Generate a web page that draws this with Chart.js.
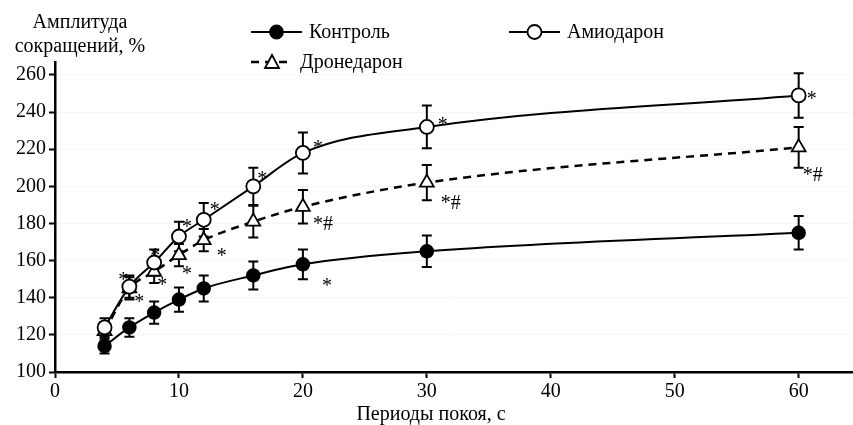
<!DOCTYPE html>
<html>
<head>
<meta charset="utf-8">
<script src="https://cdn.jsdelivr.net/npm/chart.js@4"></script>
<style>
  html, body { margin: 0; padding: 0; background: #fff; overflow: hidden; }
  #wrap { width: 853px; height: 425px; overflow: hidden; }
</style>
</head>
<body>
<div id="wrap"><canvas id="chart" width="863" height="425"></canvas></div>
<script>
// Rest periods, s
const restPeriods = [4, 6, 8, 10, 12, 16, 20, 30, 60];

// Contraction amplitude, % (mean and error)
const control = [114, 124, 132, 139, 145, 152, 158, 165, 175];
const controlErr = [4, 5, 6, 6.5, 7, 7.5, 8, 8.5, 9];
const amiodarone = [124, 146, 159, 173, 182, 200, 218, 232, 249];
const amiodaroneErr = [5, 6, 7, 8, 9, 10, 11, 11.5, 12];
const dronedarone = [122, 145, 154, 163, 171, 181, 189, 202, 221];
const dronedaroneErr = [5, 6, 6, 6, 6, 8.5, 9, 9.5, 11];

const yTicks = [100, 120, 140, 160, 180, 200, 220, 240, 260];
const xTicks = [0, 10, 20, 30, 40, 50, 60];

// significance marks: dataset index, point index, text
const sigMarks = [
  [1, 1, '*'], [2, 1, '*'], [1, 2, '*'], [2, 2, '*'],
  [1, 3, '*'], [2, 3, '*'], [1, 4, '*'], [2, 4, '*'],
  [1, 5, '*'], [1, 6, '*'], [1, 7, '*'], [1, 8, '*'],
  [2, 6, '*#'], [2, 7, '*#'], [2, 8, '*#'], [0, 6, '*']
];
// pixel offsets of each mark from its point
const markOffsets = [
  [-6, -10], [10, 10], [1, -10], [8, 10],
  [8, -13], [8, 16], [11, -13], [18, 13],
  [9, -11], [15, -8], [16, -5], [13, 0],
  [20, 14], [24, 17], [14, 24], [24, 18]
];

const serif = '"Liberation Serif", "DejaVu Serif", serif';

const toPoints = ys => ys.map((y, i) => ({ x: restPeriods[i], y: y }));
const errors = [controlErr, amiodaroneErr, dronedaroneErr];

// error bars under the markers
const errorBars = {
  id: 'errorBars',
  beforeDatasetsDraw(chart) {
    const c = chart.ctx;
    const ys = chart.scales.y;
    c.save();
    c.strokeStyle = '#000';
    c.lineWidth = 2;
    chart.data.datasets.forEach((ds, di) => {
      chart.getDatasetMeta(di).data.forEach((pt, i) => {
        const v = ds.data[i].y, e = errors[di][i];
        const top = ys.getPixelForValue(v + e), bot = ys.getPixelForValue(v - e);
        c.beginPath();
        c.moveTo(pt.x, top); c.lineTo(pt.x, bot);
        c.moveTo(pt.x - 5, top); c.lineTo(pt.x + 5, top);
        c.moveTo(pt.x - 5, bot); c.lineTo(pt.x + 5, bot);
        c.stroke();
      });
    });
    c.restore();
  }
};

// titles, legend and significance marks
const extras = {
  id: 'extras',
  afterDraw(chart) {
    const c = chart.ctx;
    c.save();
    c.fillStyle = '#000';
    c.font = '20px ' + serif;
    c.textAlign = 'center';
    c.textBaseline = 'middle';
    c.fillText('Амплитуда', 80, 23);
    c.fillText('сокращений, %', 80, 47);
    c.fillText('Периоды покоя, с', 431, 415);

    // marks
    sigMarks.forEach((m, k) => {
      const pt = chart.getDatasetMeta(m[0]).data[m[1]];
      c.font = '20px ' + serif;
      c.fillText(m[2], pt.x + markOffsets[k][0], pt.y + markOffsets[k][1] + 4);
    });

    // legend
    const items = [
      { x1: 251, x2: 302, y: 32, text: 'Контроль', ds: 0 },
      { x1: 509, x2: 560, y: 32, text: 'Амиодарон', ds: 1 },
      { x1: 251, x2: 293, y: 62, text: 'Дронедарон', ds: 2 }
    ];
    items.forEach(it => {
      const ds = chart.data.datasets[it.ds];
      c.strokeStyle = '#000';
      c.lineWidth = ds.borderWidth;
      c.setLineDash(ds.borderDash || []);
      c.beginPath();
      c.moveTo(it.x1, it.y); c.lineTo(it.x2, it.y);
      c.stroke();
      c.setLineDash([]);
      const mx = (it.x1 + it.x2) / 2;
      c.lineWidth = 1.8;
      c.fillStyle = ds.pointBackgroundColor;
      c.beginPath();
      if (ds.pointStyle === 'triangle') {
        c.moveTo(mx, it.y - 7); c.lineTo(mx + 7, it.y + 6); c.lineTo(mx - 7, it.y + 6); c.closePath();
      } else {
        c.arc(mx, it.y, ds.pointRadius, 0, Math.PI * 2);
      }
      c.fill(); c.stroke();
      c.fillStyle = '#000';
      c.textAlign = 'left';
      c.font = '20px ' + serif;
      c.fillText(it.text, it.x2 + 7, it.y + 1);
    });
    c.restore();
  }
};

new Chart(document.getElementById('chart'), {
  type: 'scatter',
  data: {
    datasets: [
      {
        label: 'Контроль', data: toPoints(control), showLine: true,
        borderColor: '#000', borderWidth: 2, cubicInterpolationMode: 'monotone',
        pointRadius: 6.5, pointBackgroundColor: '#000', pointBorderColor: '#000', pointBorderWidth: 1.5
      },
      {
        label: 'Амиодарон', data: toPoints(amiodarone), showLine: true,
        borderColor: '#000', borderWidth: 2, cubicInterpolationMode: 'monotone',
        pointRadius: 7, pointBackgroundColor: '#fff', pointBorderColor: '#000', pointBorderWidth: 1.8
      },
      {
        label: 'Дронедарон', data: toPoints(dronedarone), showLine: true,
        borderColor: '#000', borderWidth: 2.5, borderDash: [8, 6], cubicInterpolationMode: 'monotone',
        pointStyle: 'triangle', pointRadius: 8, pointBackgroundColor: '#fff', pointBorderColor: '#000', pointBorderWidth: 1.8
      }
    ]
  },
  options: {
    responsive: false,
    animation: false,
    layout: { padding: { top: 62, right: 0, left: 0, bottom: 0 } },
    plugins: { legend: { display: false }, tooltip: { enabled: false } },
    scales: {
      x: {
        type: 'linear', min: 0, max: 64.4,
        afterFit: s => { s.height = 53; },
        afterBuildTicks: s => { s.ticks = xTicks.map(v => ({ value: v })); },
        border: { color: '#000', width: 2.5 },
        grid: { drawOnChartArea: false, tickLength: 6, tickColor: '#000', tickWidth: 2 },
        ticks: { color: '#000', padding: 2, font: { family: serif, size: 20 } }
      },
      y: {
        min: 100, max: 267,
        afterFit: s => { s.width = 55; },
        afterBuildTicks: s => { s.ticks = yTicks.map(v => ({ value: v })); },
        border: { color: '#000', width: 2.5 },
        grid: { color: 'rgba(0,0,0,0.035)', tickLength: 6, tickColor: '#000', tickWidth: 2 },
        ticks: { color: '#000', padding: 3, font: { family: serif, size: 20 } }
      }
    }
  },
  plugins: [errorBars, extras]
});
</script>
</body>
</html>
